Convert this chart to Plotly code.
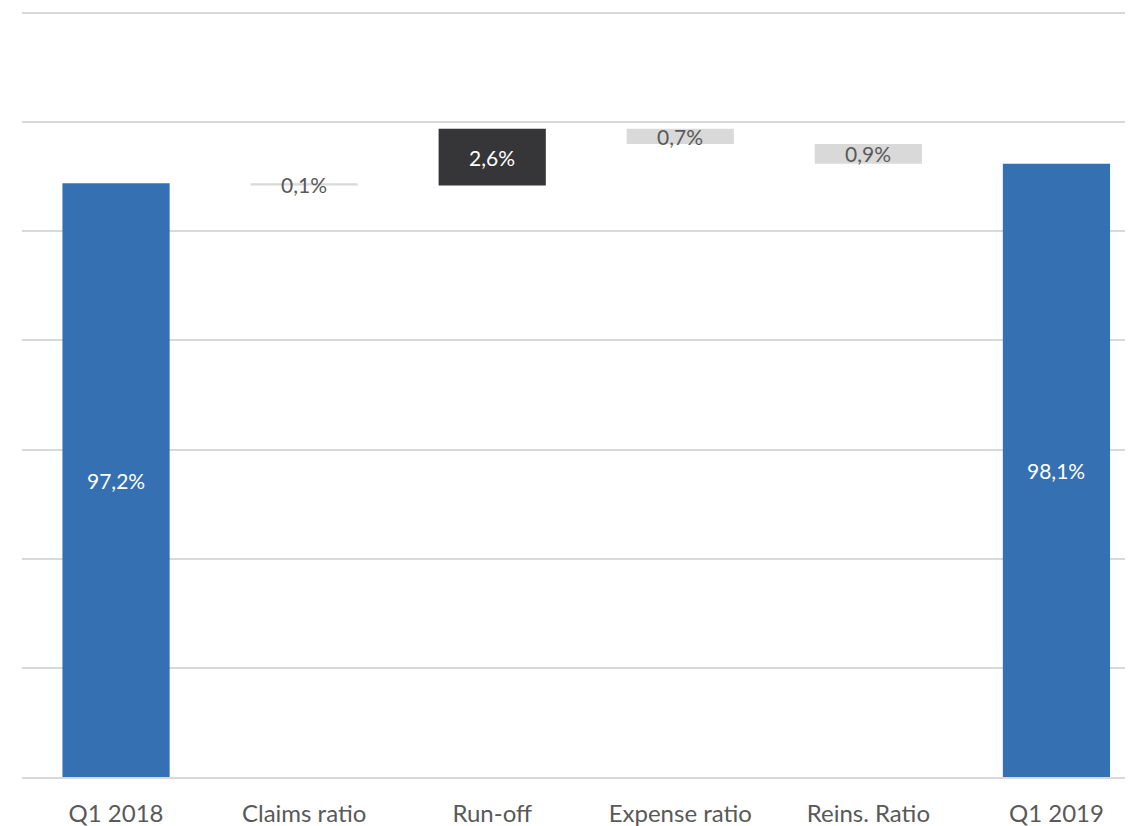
import plotly.graph_objects as go

categories = ["Q1 2018", "Claims ratio", "Run-off", "Expense ratio", "Reins. Ratio", "Q1 2019"]
values = [97.2, -0.1, 2.6, -0.7, -0.9, 98.1]
measures = ["absolute", "relative", "relative", "relative", "relative", "total"]

BLUE = "#3470B2"
DARK = "#363638"
LIGHT = "#D9D9D9"
TXT = "#595959"
FONT = "Lato"

fig = go.Figure()
fig.add_trace(go.Waterfall(
    x=categories,
    y=[v if m != "total" else 0 for v, m in zip(values, measures)],
    measure=measures,
    width=0.57,
    base=0,
    connector={"visible": False},
    increasing={"marker": {"color": DARK}},
    decreasing={"marker": {"color": LIGHT}},
    totals={"marker": {"color": BLUE}},
    textposition="none",
    hoverinfo="skip",
))

# labels at the middle of the visible part of each bar
ymin = 70
running = 0.0
for cat, v, m in zip(categories, values, measures):
    label = f"{abs(v):.1f}".replace(".", ",") + "%"
    if m == "absolute":
        running = v
        mid = (ymin + v) / 2
        color = "white"
    elif m == "total":
        mid = (ymin + running) / 2
        color = "white"
    else:
        start = running
        running = running + v
        mid = (start + running) / 2
        color = "white" if v > 0 else TXT
    fig.add_annotation(x=cat, y=mid, text=label, showarrow=False,
                       xanchor="center", yanchor="middle",
                       font=dict(family=FONT, size=21, color=color))

# the page body has an 8px default margin, so the figure is sized to fill the rest
fig.update_layout(
    width=1125, height=818,
    margin=dict(l=14, r=0, t=4, b=49),
    paper_bgcolor="white", plot_bgcolor="white",
    showlegend=False,
    font=dict(family=FONT, color=TXT),
    xaxis=dict(
        range=[-0.5, 5.407],
        showgrid=False, zeroline=False,
        showline=True, linecolor=LIGHT, linewidth=1.5,
        ticks="", tickfont=dict(family=FONT, size=24, color=TXT),
        ticklabelstandoff=14,
    ),
    yaxis=dict(
        range=[70, 105.05], dtick=5, tick0=70,
        showgrid=True, gridcolor=LIGHT, gridwidth=1.5,
        showticklabels=False, zeroline=False, showline=False, ticks="",
    ),
)

fig.write_html("out.html")
